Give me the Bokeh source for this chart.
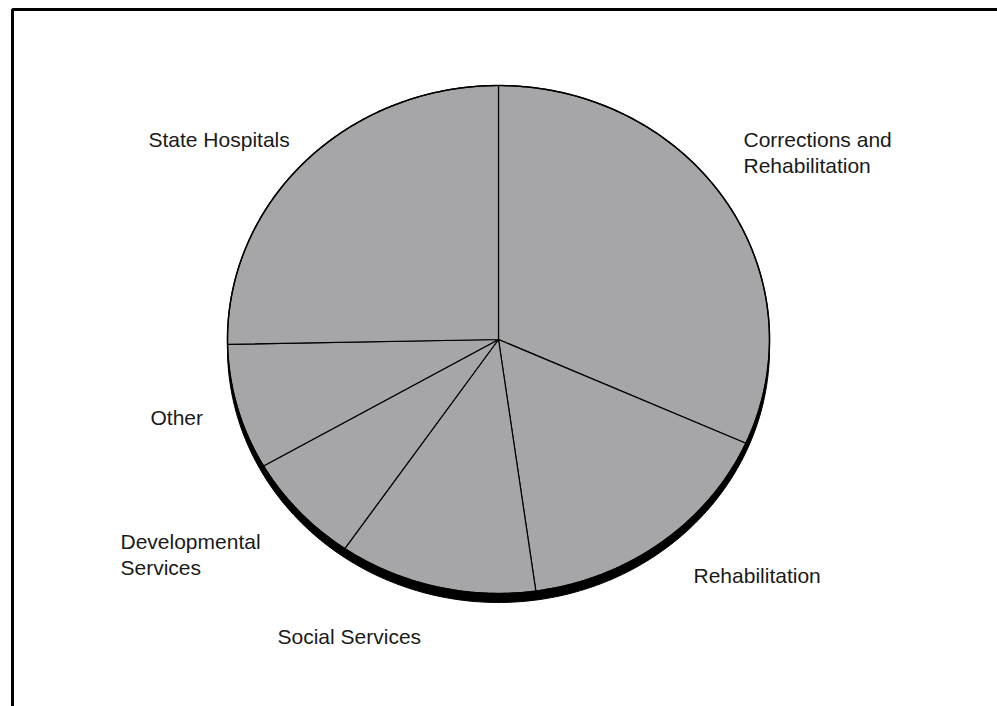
import numpy as np
from bokeh.plotting import figure
from bokeh.models import Range1d, ColumnDataSource
from bokeh.core.properties import value
from bokeh.embed import file_html
from bokeh.resources import INLINE

# ---- data (percent shares, clockwise from 12 o'clock) ----
categories = ["Corrections and\nRehabilitation", "Rehabilitation", "Social Services",
              "Developmental\nServices", "Other", "State Hospitals"]
shares = [31.7, 16.1, 11.8, 7.1, 8.0, 25.3]

# ---- layout ----
W, H = 997, 706
cx, cy, rx, ry = 498.0, 339.0, 271.0, 254.0
depth = 9.0
label_anchor = [(743, 139), (693, 575), (277, 636), (120, 541), (150, 417), (148, 139)]
line_gap = 26
fill = "#a6a6a8"

p = figure(width=W, height=H, output_backend="svg", toolbar_location=None,
           x_range=Range1d(0, W), y_range=Range1d(H, 0), min_border=0,
           background_fill_color="white", border_fill_color="white")
p.axis.visible = False
p.grid.visible = False
p.outline_line_color = None

# frame
p.line([12, 12, W + 5], [H + 5, 9, 9], line_color="black", line_width=3)

# depth (3D side)
t = np.linspace(0, 2 * np.pi, 400)
p.patch(cx + rx * np.sin(t), cy + depth - ry * np.cos(t), fill_color="black",
        line_color="black", line_width=1)

# slices
fr = np.array(shares) / np.sum(shares)
ends = np.cumsum(fr) * 2 * np.pi
starts = ends - fr * 2 * np.pi
xs, ys = [], []
for a0, a1 in zip(starts, ends):
    tt = np.linspace(a0, a1, 200)
    xs.append(np.concatenate([[cx], cx + rx * np.sin(tt)]).tolist())
    ys.append(np.concatenate([[cy], cy - ry * np.cos(tt)]).tolist())
p.patches(xs, ys, fill_color=fill, line_color="black", line_width=1.2)

# outer rim
p.line((cx + rx * np.sin(t)).tolist(), (cy - ry * np.cos(t)).tolist(),
       line_color="black", line_width=1.5)

# labels
lx, ly, lt = [], [], []
for name, (ax, ay) in zip(categories, label_anchor):
    for i, part in enumerate(name.split("\n")):
        lx.append(ax); ly.append(ay + i * line_gap); lt.append(part)
src = ColumnDataSource(dict(x=lx, y=ly, text=lt))
p.text("x", "y", text="text", source=src, text_font=value("Liberation Sans"),
       text_font_size="21px", text_color="#1a1a1a", text_align="left",
       text_baseline="alphabetic")

open("out.html", "w").write(file_html(p, INLINE))
